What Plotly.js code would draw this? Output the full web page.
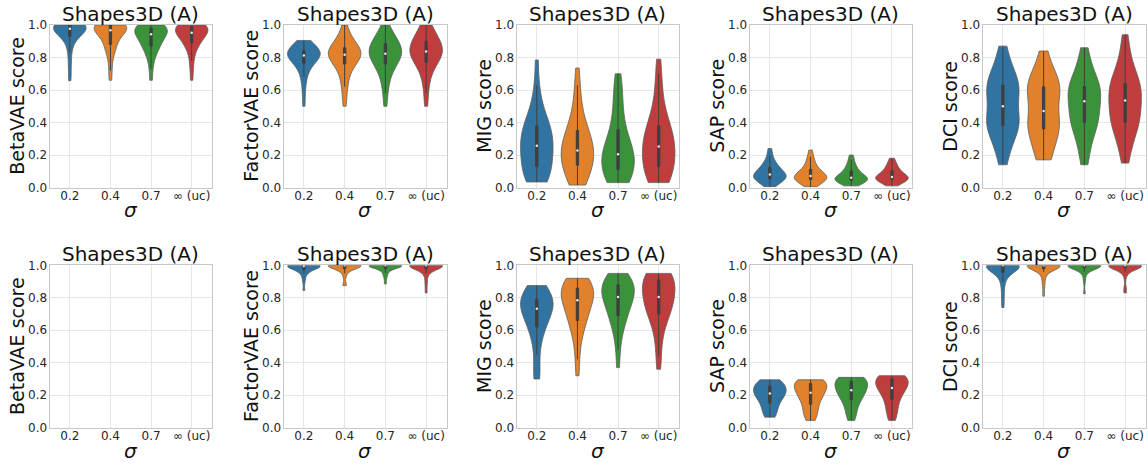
<!DOCTYPE html>
<html>
<head>
<meta charset="utf-8">
<script src="https://cdn.plot.ly/plotly-3.0.1.min.js"></script>
<style>html,body{margin:0;padding:0;background:#fff;}#chart{width:1148px;height:464px;}</style>
</head>
<body>
<div id="chart"></div>
<script>
// ---------------- data ----------------
const sigmaLabels = ['0.2', '0.4', '0.7', '\u221e (uc)'];
const metricNames = ['BetaVAE', 'FactorVAE', 'MIG', 'SAP', 'DCI'];
const panelTitle = 'Shapes3D (A)';

// Row 1 samples (one list per sigma)
const betavaeTop = [
  [0.657,0.72,0.78,0.83,0.87,0.90,0.915,0.93,0.94,0.95,0.955,0.96,0.965,0.97,0.975,0.98,0.985,0.99,0.99,0.995,0.995,1,1,1,1,1,1,1,1,1],
  [0.66,0.72,0.78,0.82,0.85,0.86,0.87,0.88,0.90,0.92,0.935,0.945,0.955,0.96,0.965,0.97,0.975,0.98,0.985,0.99,0.995,1,1,1,1,1,1,1,1,1],
  [0.66,0.73,0.78,0.81,0.83,0.85,0.86,0.87,0.88,0.89,0.90,0.91,0.92,0.93,0.94,0.945,0.95,0.955,0.96,0.965,0.97,0.975,0.98,0.985,0.99,0.995,1,1,1,1],
  [0.66,0.73,0.78,0.82,0.85,0.87,0.88,0.89,0.90,0.91,0.92,0.93,0.94,0.945,0.95,0.955,0.96,0.965,0.97,0.975,0.98,0.985,0.99,0.99,0.995,1,1,1,1,1]
];
const factorvaeTop = [
  [0.50,0.58,0.64,0.68,0.71,0.73,0.75,0.765,0.775,0.785,0.79,0.795,0.80,0.805,0.81,0.815,0.82,0.825,0.83,0.83,0.835,0.84,0.845,0.85,0.855,0.86,0.87,0.88,0.89,0.905],
  [0.50,0.57,0.62,0.66,0.69,0.72,0.74,0.76,0.77,0.78,0.79,0.80,0.805,0.81,0.815,0.82,0.825,0.83,0.835,0.84,0.845,0.85,0.86,0.87,0.88,0.89,0.91,0.93,0.96,1.0],
  [0.50,0.58,0.63,0.67,0.70,0.72,0.74,0.76,0.77,0.78,0.79,0.80,0.81,0.815,0.82,0.825,0.83,0.84,0.85,0.86,0.87,0.88,0.885,0.89,0.90,0.91,0.93,0.95,0.97,1.0],
  [0.50,0.58,0.64,0.68,0.71,0.74,0.76,0.77,0.78,0.79,0.80,0.81,0.82,0.83,0.835,0.84,0.845,0.85,0.86,0.87,0.88,0.89,0.90,0.91,0.92,0.93,0.95,0.97,0.99,1.0]
];
const migTop = [
  [0.034,0.036,0.04,0.05,0.065,0.08,0.10,0.12,0.14,0.16,0.175,0.19,0.205,0.22,0.235,0.25,0.265,0.28,0.295,0.31,0.325,0.34,0.355,0.37,0.385,0.40,0.42,0.45,0.49,0.55,0.63,0.785],
  [0.015,0.02,0.035,0.05,0.07,0.09,0.11,0.13,0.145,0.16,0.17,0.18,0.19,0.20,0.21,0.22,0.235,0.25,0.265,0.28,0.295,0.31,0.325,0.34,0.36,0.38,0.41,0.45,0.50,0.56,0.63,0.735],
  [0.03,0.032,0.035,0.04,0.05,0.065,0.08,0.10,0.12,0.135,0.15,0.16,0.17,0.18,0.19,0.20,0.21,0.22,0.235,0.25,0.27,0.29,0.31,0.34,0.37,0.41,0.45,0.50,0.55,0.60,0.65,0.70],
  [0.03,0.033,0.04,0.05,0.065,0.08,0.10,0.12,0.14,0.155,0.17,0.185,0.20,0.215,0.23,0.245,0.26,0.275,0.29,0.305,0.32,0.335,0.35,0.37,0.39,0.42,0.45,0.49,0.55,0.62,0.70,0.79]
];
const sapTop = [
  [0.005,0.02,0.03,0.04,0.045,0.05,0.055,0.06,0.06,0.065,0.07,0.075,0.08,0.085,0.09,0.095,0.10,0.11,0.12,0.13,0.14,0.15,0.17,0.20,0.24],
  [0.005,0.02,0.03,0.035,0.04,0.045,0.05,0.05,0.055,0.06,0.065,0.07,0.07,0.075,0.08,0.085,0.09,0.10,0.11,0.12,0.13,0.15,0.17,0.19,0.23],
  [0.01,0.02,0.03,0.035,0.04,0.04,0.045,0.045,0.05,0.05,0.055,0.055,0.06,0.065,0.07,0.075,0.08,0.09,0.10,0.11,0.12,0.13,0.15,0.17,0.20],
  [0.01,0.02,0.03,0.035,0.04,0.045,0.05,0.05,0.055,0.055,0.06,0.06,0.065,0.07,0.075,0.08,0.085,0.09,0.10,0.11,0.12,0.13,0.14,0.16,0.18]
];
const dciTop = [
  [0.14,0.19,0.24,0.28,0.32,0.35,0.37,0.38,0.39,0.40,0.40,0.41,0.42,0.44,0.48,0.52,0.56,0.59,0.60,0.61,0.61,0.62,0.63,0.64,0.66,0.69,0.72,0.76,0.81,0.87],
  [0.17,0.175,0.19,0.22,0.27,0.31,0.34,0.36,0.37,0.38,0.385,0.39,0.40,0.42,0.45,0.49,0.53,0.57,0.59,0.60,0.61,0.615,0.62,0.63,0.64,0.66,0.69,0.73,0.78,0.84],
  [0.14,0.19,0.24,0.29,0.33,0.36,0.38,0.40,0.41,0.42,0.43,0.44,0.46,0.49,0.52,0.54,0.56,0.58,0.59,0.60,0.61,0.615,0.62,0.63,0.65,0.68,0.72,0.76,0.81,0.86],
  [0.15,0.21,0.26,0.30,0.34,0.37,0.39,0.40,0.41,0.42,0.43,0.45,0.48,0.51,0.53,0.54,0.56,0.58,0.60,0.61,0.62,0.63,0.64,0.66,0.68,0.71,0.75,0.80,0.87,0.94]
];

// Row 2 samples
const betavaeBottom = [[], [], [], []];
const factorvaeBottom = [
  [0.845,0.90,0.93,0.95,0.96,0.97,0.975,0.98,0.985,0.99,0.99,0.995,0.995,1,1,1,1,1,1,1,1,1,1,1,1],
  [0.875,0.88,0.93,0.95,0.965,0.975,0.98,0.985,0.99,0.995,0.995,1,1,1,1,1,1,1,1,1,1,1,1,1,1],
  [0.885,0.92,0.94,0.955,0.965,0.975,0.98,0.985,0.99,0.99,0.995,0.995,1,1,1,1,1,1,1,1,1,1,1,1,1],
  [0.83,0.88,0.92,0.95,0.965,0.975,0.98,0.985,0.99,0.995,0.995,1,1,1,1,1,1,1,1,1,1,1,1,1,1]
];
const migBottom = [
  [0.30,0.31,0.36,0.45,0.52,0.56,0.59,0.62,0.64,0.655,0.67,0.685,0.70,0.71,0.725,0.74,0.75,0.76,0.77,0.775,0.78,0.785,0.79,0.80,0.81,0.82,0.835,0.85,0.865,0.875],
  [0.32,0.42,0.50,0.56,0.60,0.63,0.65,0.66,0.68,0.70,0.72,0.74,0.76,0.77,0.78,0.79,0.80,0.81,0.82,0.83,0.84,0.85,0.86,0.87,0.88,0.89,0.90,0.91,0.915,0.92],
  [0.37,0.48,0.55,0.60,0.63,0.66,0.68,0.69,0.71,0.73,0.75,0.77,0.78,0.79,0.80,0.81,0.82,0.83,0.84,0.85,0.86,0.87,0.88,0.89,0.90,0.91,0.92,0.93,0.94,0.95],
  [0.36,0.44,0.52,0.58,0.62,0.66,0.69,0.70,0.71,0.72,0.74,0.76,0.78,0.79,0.80,0.81,0.82,0.83,0.84,0.86,0.88,0.90,0.91,0.92,0.93,0.935,0.94,0.945,0.95,0.95]
];
const sapBottom = [
  [0.065,0.075,0.09,0.11,0.125,0.14,0.155,0.17,0.18,0.19,0.20,0.205,0.21,0.215,0.22,0.23,0.24,0.25,0.255,0.26,0.27,0.275,0.28,0.29,0.295],
  [0.045,0.06,0.08,0.10,0.115,0.13,0.15,0.17,0.185,0.195,0.20,0.21,0.215,0.225,0.24,0.25,0.26,0.265,0.27,0.275,0.28,0.285,0.29,0.29,0.295],
  [0.045,0.07,0.095,0.12,0.14,0.16,0.175,0.19,0.20,0.21,0.215,0.22,0.23,0.24,0.25,0.26,0.27,0.28,0.285,0.29,0.295,0.30,0.305,0.31,0.31],
  [0.045,0.07,0.095,0.12,0.14,0.16,0.18,0.20,0.215,0.225,0.235,0.24,0.245,0.255,0.265,0.275,0.285,0.29,0.30,0.305,0.31,0.315,0.32,0.32,0.32]
];
const dciBottom = [
  [0.74,0.80,0.86,0.90,0.93,0.95,0.96,0.97,0.98,0.985,0.99,0.995,1,1,1,1,1,1,1,1,1,1,1,1,1],
  [0.81,0.87,0.91,0.94,0.96,0.97,0.98,0.985,0.99,0.995,1,1,1,1,1,1,1,1,1,1,1,1,1,1,1],
  [0.825,0.90,0.94,0.96,0.97,0.98,0.985,0.99,0.99,0.995,1,1,1,1,1,1,1,1,1,1,1,1,1,1,1],
  [0.83,0.86,0.93,0.96,0.97,0.98,0.985,0.99,0.995,0.995,1,1,1,1,1,1,1,1,1,1,1,1,1,1,1]
];

const rowsData = [
  [betavaeTop, factorvaeTop, migTop, sapTop, dciTop],
  [betavaeBottom, factorvaeBottom, migBottom, sapBottom, dciBottom]
];

// ---------------- style / layout ----------------
const W = 1148, H = 464;
const colors = ['#3274a1', '#e1812c', '#3a923a', '#c03d3e'];
const colPx = [[49.5, 212], [283.5, 446.5], [516.5, 679], [749.5, 912.3], [982.5, 1145.5]];
const rowPx = [[25, 187.5], [265.3, 427.7]];
const FONT = 'DejaVu Sans, Liberation Sans, sans-serif';
const TXT = '#262626';

function median(a) {
  const s = a.slice().sort((p, q) => p - q);
  const n = s.length;
  return n % 2 ? s[(n - 1) / 2] : (s[n / 2 - 1] + s[n / 2]) / 2;
}
// Scott's rule kernel width (as used by scipy / seaborn)
function scottBw(a) {
  const n = a.length;
  const m = a.reduce((p, q) => p + q, 0) / n;
  const v = a.reduce((p, q) => p + (q - m) * (q - m), 0) / (n - 1);
  return Math.sqrt(v) * Math.pow(n, -0.2);
}

const traces = [];
const layout = {
  width: W, height: H,
  margin: {l: 0, r: 0, t: 0, b: 0},
  paper_bgcolor: '#ffffff', plot_bgcolor: '#ffffff',
  showlegend: false,
  violinmode: 'overlay',
  font: {family: FONT, color: TXT},
  annotations: []
};

for (let r = 0; r < 2; r++) {
  for (let c = 0; c < 5; c++) {
    const k = r * 5 + c + 1;
    const xs = k === 1 ? '' : String(k);
    const xd = [colPx[c][0] / W, colPx[c][1] / W];
    const yd = [1 - rowPx[r][1] / H, 1 - rowPx[r][0] / H];
    layout['xaxis' + xs] = {
      domain: xd, anchor: 'y' + xs, range: [-0.5, 3.5],
      tickvals: [0, 1, 2, 3], ticktext: sigmaLabels,
      showgrid: true, gridcolor: '#e6e6e6', gridwidth: 1, zeroline: false,
      showline: true, mirror: true, linecolor: '#c8c8c8', linewidth: 1,
      ticks: '', ticklabelstandoff: -3,
      tickfont: {family: FONT, size: 12, color: TXT}, fixedrange: true
    };
    layout['yaxis' + xs] = {
      domain: yd, anchor: 'x' + xs, range: [0, 1],
      tick0: 0, dtick: 0.2, tickformat: '.1f',
      showgrid: true, gridcolor: '#e6e6e6', gridwidth: 1, zeroline: false,
      showline: true, mirror: true, linecolor: '#c8c8c8', linewidth: 1,
      ticks: '', ticklabelstandoff: -1,
      tickfont: {family: FONT, size: 12, color: TXT}, fixedrange: true
    };
    const cx = (xd[0] + xd[1]) / 2, cy = (yd[0] + yd[1]) / 2;
    layout.annotations.push({
      text: panelTitle, xref: 'paper', yref: 'paper', x: cx, y: yd[1],
      xanchor: 'center', yanchor: 'bottom', yshift: -3, showarrow: false,
      font: {family: FONT, size: 20, color: '#111'}
    });
    layout.annotations.push({
      text: metricNames[c] + ' score', xref: 'paper', yref: 'paper', x: xd[0], y: cy,
      xanchor: 'center', yanchor: 'middle', xshift: -32, textangle: -90, showarrow: false,
      font: {family: FONT, size: 19, color: '#111'}
    });
    layout.annotations.push({
      text: '<i>\u03c3</i>', xref: 'paper', yref: 'paper', x: cx, y: yd[0],
      xanchor: 'center', yanchor: 'middle', yshift: -23, showarrow: false,
      font: {family: FONT, size: 20, color: '#111'}
    });

    // keep the (possibly empty) panel's axes drawn
    traces.push({type: 'scatter', mode: 'markers', x: [], y: [], xaxis: 'x' + xs, yaxis: 'y' + xs, hoverinfo: 'skip'});

    const data = rowsData[r][c];
    for (let j = 0; j < 4; j++) {
      const vals = data[j];
      if (!vals.length) continue;
      traces.push({
        type: 'violin', x0: j, y: vals, xaxis: 'x' + xs, yaxis: 'y' + xs,
        width: 0.8, spanmode: 'hard', scalemode: 'width', points: false,
        bandwidth: scottBw(vals),
        fillcolor: colors[j], opacity: 1,
        line: {color: '#606060', width: 0.8},
        box: {visible: true, width: 0.07, fillcolor: '#3f3f3f', line: {color: '#3f3f3f', width: 1}},
        meanline: {visible: false}, hoverinfo: 'skip'
      });
      traces.push({
        type: 'scatter', mode: 'markers', x: [j], y: [median(vals)],
        xaxis: 'x' + xs, yaxis: 'y' + xs,
        marker: {color: '#e8e8e8', size: 2.5, line: {width: 0}}, hoverinfo: 'skip'
      });
    }
  }
}

Plotly.newPlot('chart', traces, layout, {staticPlot: true, displayModeBar: false});
</script>
</body>
</html>
